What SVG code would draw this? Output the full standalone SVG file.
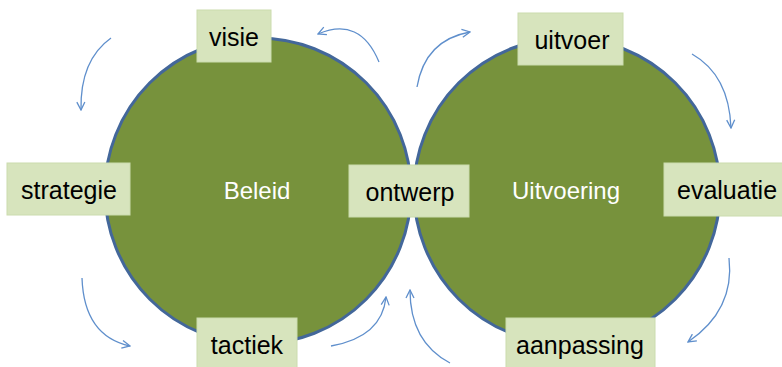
<svg xmlns="http://www.w3.org/2000/svg" width="782" height="367" viewBox="0 0 782 367">
<style>
.circle{fill:#77923C;stroke:#43679A;stroke-width:3}
.box{fill:#D7E4BD;stroke:#CBDCAE;stroke-width:1}
.lbl{font-family:"Liberation Sans",Arial,sans-serif;font-size:25px;fill:#000;text-anchor:middle}
.ctr{font-family:"Liberation Sans",Arial,sans-serif;font-size:24px;fill:#fff;text-anchor:middle}
.arr{fill:none;stroke:#5F8FCC;stroke-width:1.3;marker-end:url(#ah)}
</style>
<defs>
<marker id="ah" viewBox="0 0 10 10" refX="9" refY="5" markerWidth="10" markerHeight="10" markerUnits="userSpaceOnUse" orient="auto">
<path d="M1,1 L9,5 L1,9" fill="none" stroke="#5F8FCC" stroke-width="1.3"/>
</marker>
</defs>
<rect width="782" height="367" fill="#fff"/>
<g id="beleid"><circle class="circle" cx="258" cy="191" r="153"/><text class="ctr" x="257" y="199">Beleid</text></g>
<g id="uitvoering"><circle class="circle" cx="567" cy="191" r="153"/><text class="ctr" x="566" y="199">Uitvoering</text></g>
<g id="connectors">
<path class="arr" d="M111,38 Q80,60 81,110"/>
<path class="arr" d="M379,62 Q360,16 318,34"/>
<path class="arr" d="M417,87 Q425,40 470,32"/>
<path class="arr" d="M692,54 Q729,75 731,128"/>
<path class="arr" d="M82,278 Q84,336 130,346"/>
<path class="arr" d="M331,346 Q382,337 386,297"/>
<path class="arr" d="M450,363 Q410,342 410,290"/>
<path class="arr" d="M729,258 Q735,310 688,342"/>
</g>
<g id="visie"><rect class="box" x="197" y="10" width="74" height="52"/><text class="lbl" x="234" y="46">visie</text></g>
<g id="uitvoer"><rect class="box" x="518" y="13" width="105" height="52"/><text class="lbl" x="572" y="49">uitvoer</text></g>
<g id="strategie"><rect class="box" x="7" y="163" width="123" height="52"/><text class="lbl" x="69" y="199">strategie</text></g>
<g id="ontwerp"><rect class="box" x="349" y="165" width="120" height="52"/><text class="lbl" x="410" y="201">ontwerp</text></g>
<g id="evaluatie"><rect class="box" x="664" y="163" width="130" height="53"/><text class="lbl" x="677" y="199" style="text-anchor:start">evaluatie</text></g>
<g id="tactiek"><rect class="box" x="197" y="318" width="100" height="55"/><text class="lbl" x="247" y="354">tactiek</text></g>
<g id="aanpassing"><rect class="box" x="506" y="318" width="149" height="55"/><text class="lbl" x="580" y="354">aanpassing</text></g>
</svg>
